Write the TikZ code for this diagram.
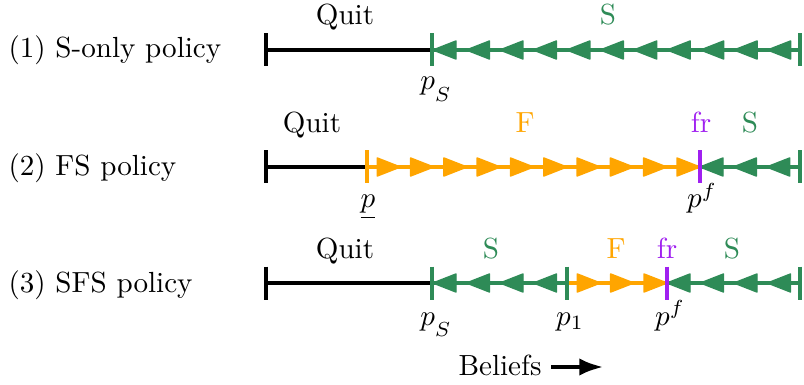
\documentclass[tikz,border=0pt]{standalone}
\usetikzlibrary{arrows.meta}
\definecolor{sgreen}{HTML}{2E8B57}
\definecolor{sorange}{HTML}{FFA500}
\definecolor{spurple}{HTML}{A020F0}
\tikzset{
  seg/.style={line width=1.5pt},
  tickmark/.style={line width=1.5pt},
  tri/.style={line join=round, line width=0.5pt},
  lbl/.style={inner sep=0pt, anchor=base},
}
% left-pointing triangles: colour, start, end, count, y
\newcommand\larrows[5]{%
  \foreach \k in {1,...,#4}{%
    \pgfmathsetmacro\tp{#2+(#3-#2)/#4*(\k-1)}%
    \filldraw[#1,tri] (\tp,#5) -- ++(23,-9) -- ++(0,18) -- cycle;
  }}
% right-pointing triangles
\newcommand\rarrows[5]{%
  \foreach \k in {1,...,#4}{%
    \pgfmathsetmacro\tp{#2+(#3-#2)/#4*\k}%
    \filldraw[#1,tri] (\tp,#5) -- ++(-23,-9) -- ++(0,18) -- cycle;
  }}
\newcommand\vtick[3]{\draw[tickmark,#1] (#2,#3-16.5) -- (#2,#3+16.5);}
\begin{document}
\begin{tikzpicture}[x=0.3436pt,y=-0.3436pt]
\useasboundingbox (0,0) rectangle (804,385);

% ---------- row 1 ----------
\coordinate (a1) at (266,50);
\coordinate (b1) at (432,50);
\coordinate (c1) at (800,50);
\draw[seg,black] (a1) -- (b1);
\draw[seg,sgreen] (b1) -- (c1);
\larrows{sgreen}{433}{801}{11}{50}
\vtick{black}{266}{50}
\vtick{sgreen}{432}{50}
\vtick{sgreen}{800}{50}
\node[lbl,anchor=base west] (t1) at (8,58) {(1) S-only policy};
\node[lbl] (q1) at (345,25) {Quit};
\node[lbl,text=sgreen] (s1) at (608,25) {S};
\node[lbl] (ps1) at (436,90) {$p_{\lower2.5pt\hbox{$\scriptstyle S$}}$};

% ---------- row 2 ----------
\coordinate (a2) at (266,167);
\coordinate (b2) at (367,167);
\coordinate (c2) at (700,167);
\coordinate (d2) at (800,167);
\draw[seg,black] (a2) -- (b2);
\draw[seg,sorange] (b2) -- (c2);
\draw[seg,sgreen] (c2) -- (d2);
\rarrows{sorange}{367}{700}{10}{167}
\larrows{sgreen}{700}{800}{3}{167}
\vtick{black}{266}{167}
\vtick{sorange}{367}{167}
\vtick{spurple}{700}{167}
\vtick{sgreen}{800}{167}
\node[lbl,anchor=base west] (t2) at (8,175) {(2) FS policy};
\node[lbl] (q2) at (312,133) {Quit};
\node[lbl,text=sorange] (f2) at (525,133) {F};
\node[lbl,text=spurple] (fr2) at (701,133) {fr};
\node[lbl,text=sgreen] (s2) at (750,133) {S};
\node[lbl] (pl2) at (368,208) {$\underline{p}$};
\node[lbl] (pf2) at (702,208) {$p^f$};

% ---------- row 3 ----------
\coordinate (a3) at (266,283);
\coordinate (b3) at (432,283);
\coordinate (c3) at (567,283);
\coordinate (d3) at (667,283);
\coordinate (e3) at (800,283);
\draw[seg,black] (a3) -- (b3);
\draw[seg,sgreen] (b3) -- (c3);
\draw[seg,sorange] (c3) -- (d3);
\draw[seg,sgreen] (d3) -- (e3);
\larrows{sgreen}{433}{567}{4}{283}
\rarrows{sorange}{567}{667}{3}{283}
\larrows{sgreen}{667}{801}{4}{283}
\vtick{black}{266}{283}
\vtick{sgreen}{432}{283}
\vtick{sgreen}{567}{283}
\vtick{spurple}{667}{283}
\vtick{sgreen}{800}{283}
\node[lbl,anchor=base west] (t3) at (8,292) {(3) SFS policy};
\node[lbl] (q3) at (345,258) {Quit};
\node[lbl,text=sgreen] (s3a) at (491,258) {S};
\node[lbl,text=sorange] (f3) at (616,258) {F};
\node[lbl,text=spurple] (fr3) at (667,258) {fr};
\node[lbl,text=sgreen] (s3b) at (732,258) {S};
\node[lbl] (ps3) at (436,325) {$p_{\lower2.5pt\hbox{$\scriptstyle S$}}$};
\node[lbl] (p13) at (570,325) {$p_1$};
\node[lbl] (pf3) at (670,325) {$p^f$};

% ---------- beliefs ----------
\node[lbl] (bel) at (500,375) {Beliefs};
\coordinate (ba) at (551,367);
\coordinate (bb) at (604,367);
\draw[line width=1.7pt,-{Latex[length=8.5pt,width=6pt]}] (ba) -- (bb);
\end{tikzpicture}
\end{document}
